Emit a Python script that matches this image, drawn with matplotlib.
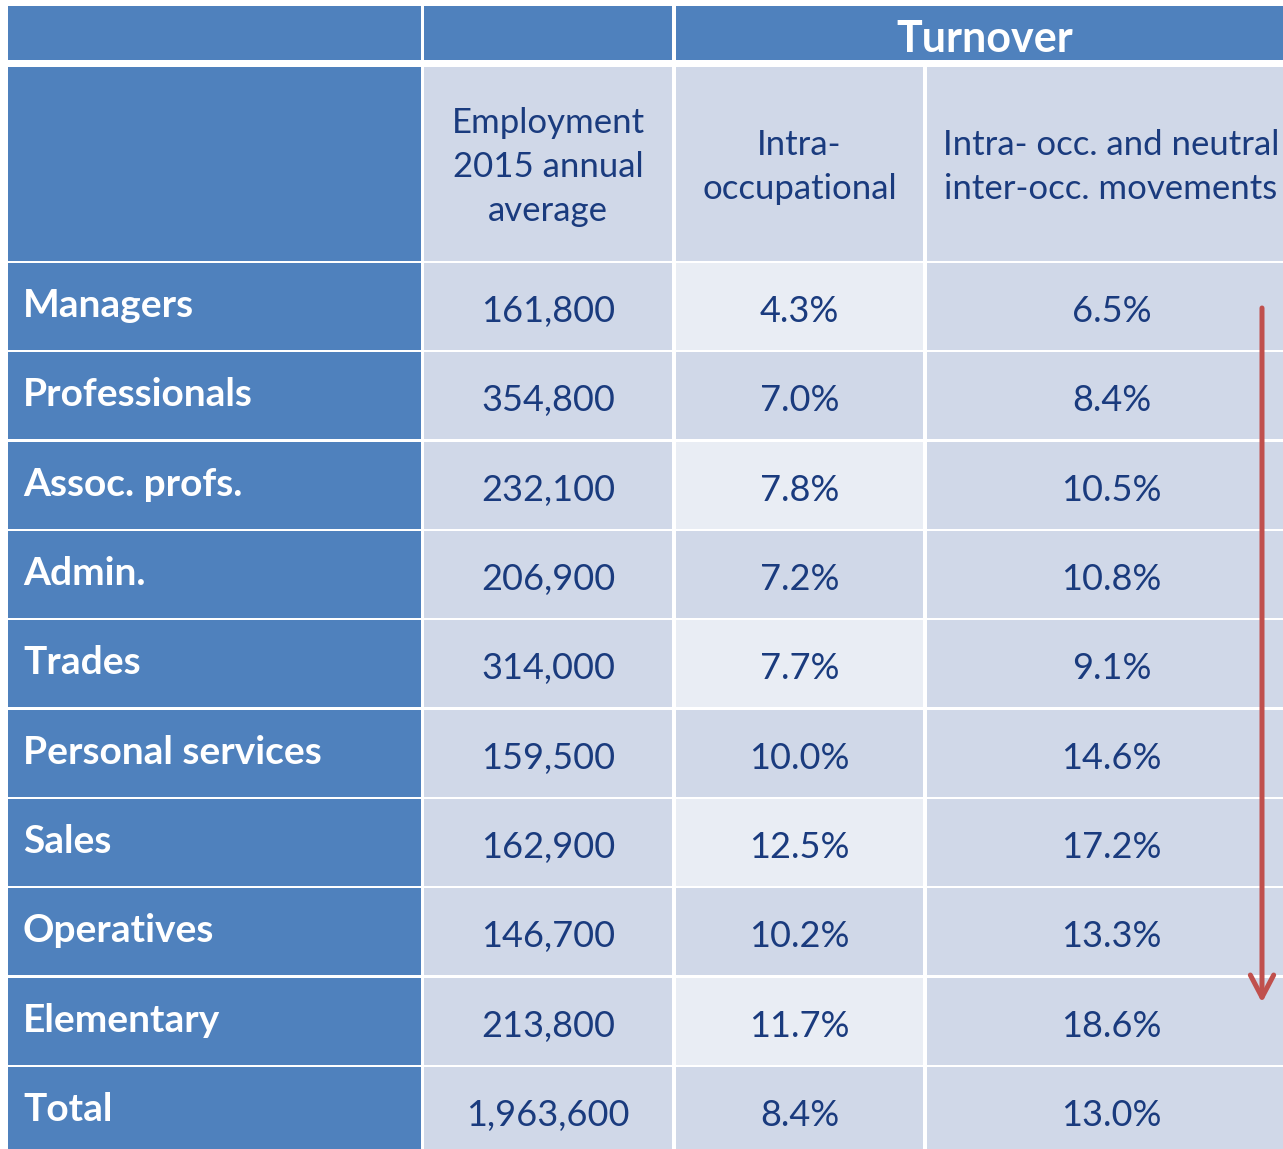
import matplotlib.pyplot as plt
from matplotlib.patches import Rectangle

# table contents
occupations = ['Managers', 'Professionals', 'Assoc. profs.', 'Admin.', 'Trades',
               'Personal services', 'Sales', 'Operatives', 'Elementary', 'Total']
employment = [161800, 354800, 232100, 206900, 314000, 159500, 162900, 146700, 213800, 1963600]
intra_occ = [4.3, 7.0, 7.8, 7.2, 7.7, 10.0, 12.5, 10.2, 11.7, 8.4]
intra_neutral = [6.5, 8.4, 10.5, 10.8, 9.1, 14.6, 17.2, 13.3, 18.6, 13.0]
col_headers = ['Employment\n2015 annual\naverage', 'Intra-\noccupational',
               'Intra- occ. and neutral\ninter-occ. movements']
group_header = 'Turnover'

BLUE = '#4F81BD'
CELL = '#D0D8E8'
CELL_LIGHT = '#E9EDF4'
TXT = '#1A3B7E'
RED = '#C0504D'
FONT = ['Lato', 'DejaVu Sans']

W, H = 1283, 1149
fig = plt.figure(figsize=(W / 100, H / 100), dpi=100)
ax = fig.add_axes([0, 0, 1, 1])
ax.set_xlim(0, W)
ax.set_ylim(H, 0)
ax.axis('off')

# layout in pixels
cols = [(8, 421), (424, 672), (676, 923), (927, 1296)]
hdr1 = (6, 60)
hdr2 = (67, 261)
row_top0, row_pitch, row_h = 263, 89.33, 87


def cell(x0, x1, y0, y1, color):
    ax.add_patch(Rectangle((x0, y0), x1 - x0, y1 - y0, facecolor=color, edgecolor='none'))


# header row 1
cell(cols[0][0], cols[0][1], *hdr1, BLUE)
cell(cols[1][0], cols[1][1], *hdr1, BLUE)
cell(cols[2][0], cols[3][1], *hdr1, BLUE)
ax.text(985, 52, group_header, color='white', fontsize=31,
        fontweight='bold', family=FONT, ha='center', va='baseline')

# header row 2
cell(cols[0][0], cols[0][1], *hdr2, BLUE)
for j, lab in enumerate(col_headers):
    x0, x1 = cols[j + 1]
    cell(x0, x1, *hdr2, CELL)
    xc = (x0 + x1) / 2 if j < 2 else 1111
    ax.text(xc, 167, lab, color=TXT, fontsize=25,
            family=FONT, ha='center', va='center', linespacing=1.45)

# data rows
for i, occ in enumerate(occupations):
    y0 = row_top0 + i * row_pitch
    y1 = y0 + row_h
    cell(cols[0][0], cols[0][1], y0, y1, BLUE)
    ax.text(cols[0][0] + 15, y0 + 54, occ, color='white', fontsize=28, fontweight='bold',
            family=FONT, ha='left', va='baseline')
    vals = [f'{employment[i]:,}', f'{intra_occ[i]:.1f}%', f'{intra_neutral[i]:.1f}%']
    for j, v in enumerate(vals):
        x0, x1 = cols[j + 1]
        color = CELL_LIGHT if (j == 1 and i % 2 == 0) else CELL
        cell(x0, x1, y0, y1, color)
        ax.text((x0 + x1) / 2, y0 + 59, v, color=TXT, fontsize=26, family=FONT,
                ha='center', va='baseline')

# red arrow down the last column
ax_x = 1262
ax.annotate('', xy=(ax_x, row_top0 + 8 * row_pitch + 25), xytext=(ax_x, row_top0 + 45),
            arrowprops=dict(arrowstyle='->,head_length=0.8,head_width=0.42', lw=3.6,
                            color=RED, shrinkA=0, shrinkB=0, mutation_scale=20))

fig.savefig('out.png', dpi=100, facecolor='white')
